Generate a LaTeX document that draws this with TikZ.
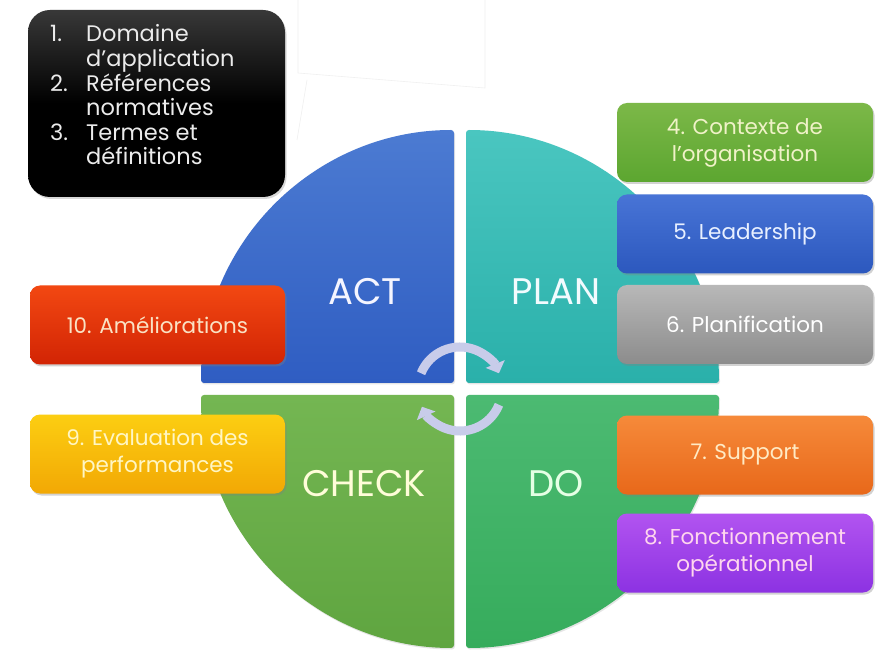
\documentclass[tikz,border=0pt]{standalone}
\usepackage{fontspec}
\setmainfont{Poppins}
\usetikzlibrary{shadows,arrows.meta}
\definecolor{actT}{HTML}{4C7BD2}
\definecolor{actB}{HTML}{2F5DC2}
\definecolor{planT}{HTML}{4AC6C0}
\definecolor{planB}{HTML}{2AB0AA}
\definecolor{checkT}{HTML}{74B652}
\definecolor{checkB}{HTML}{5FA540}
\definecolor{doT}{HTML}{4CBA72}
\definecolor{doB}{HTML}{36AC5C}
\definecolor{arrowc}{HTML}{C8CCEA}
\begin{document}
\begin{tikzpicture}[x=1pt,y=1pt,
  quad/.style={rounded corners=3pt, drop shadow={opacity=0.2, shadow xshift=1pt, shadow yshift=-1.5pt}},
  box/.style={rectangle, rounded corners=10pt, minimum width=256pt, minimum height=79pt, inner sep=0pt, align=center,
    font=\fontsize{21.5}{27}\selectfont, drop shadow={opacity=0.35, shadow xshift=1.5pt, shadow yshift=-2pt}},
  big/.style={inner sep=0pt, font=\fontsize{37}{40}\selectfont},
  cyc/.style={draw=arrowc, line width=9pt, -{Triangle[width=20pt,length=10pt]}}
]
\useasboundingbox (0,0) rectangle (884,-652);
\fill[white] (0,0) rectangle (884,-652);
% faint background lines
\draw[gray!12, line width=0.6pt] (298,0) -- (298,-73) -- (485,-88) -- (485,0);
\draw[gray!12, line width=0.6pt] (307,-80) -- (297,-140);
% quadrants
\path[quad, top color=actT, bottom color=actB] (454,-383) -- (201,-383) arc[start angle=180, end angle=90, radius=253] -- cycle;
\path[quad, top color=planT, bottom color=planB] (466,-383) -- (466,-130) arc[start angle=90, end angle=0, radius=253] -- cycle;
\path[quad, top color=checkT, bottom color=checkB] (454,-395) -- (201,-395) arc[start angle=180, end angle=270, radius=253] -- cycle;
\path[quad, top color=doT, bottom color=doB] (466,-395) -- (719,-395) arc[start angle=0, end angle=-90, radius=253] -- cycle;
% big labels
\node[big, text=blue!4] (act) at (365,-292) {ACT};
\node[big, text=cyan!5] (plan) at (556,-292) {PLAN};
\node[big, text=yellow!15] (check) at (364,-484) {CHECK};
\node[big, text=green!10] (do) at (556,-484) {DO};
% cycle arrows
\coordinate (cc) at (460,-389);
\draw[cyc] ([shift={(158:42)}]cc) arc[start angle=158, end angle=22, radius=42];
\draw[cyc] ([shift={(-22:42)}]cc) arc[start angle=-22, end angle=-155, radius=42];
% black box
\node[rectangle, rounded corners=22pt, minimum width=257pt, minimum height=187pt, inner sep=0pt,
  top color=black!78, bottom color=black, middle color=black, drop shadow={opacity=0.3, shadow xshift=1.5pt, shadow yshift=-2pt}]
  (b0) at (156.5,-103.5) {};
\node[anchor=base west, inner sep=0pt, text=white!92!black, font=\fontsize{22.5}{24.3}\selectfont] (b0t) at (50,-42)
  {\begin{tabular}[t]{@{}p{36pt}@{}l@{}}
  1. & Domaine\\
     & d'application\\
  2. & Références\\
     & normatives\\
  3. & Termes et\\
     & définitions
  \end{tabular}};
% right boxes
\node[box, top color={rgb,255:red,124;green,184;blue,72}, bottom color={rgb,255:red,92;green,166;blue,48}, text={rgb,255:red,240;green,242;blue,200}]
  (b4) at (745,-142.5) {4. Contexte de\\l'organisation};
\node[box, top color={rgb,255:red,72;green,116;blue,214}, bottom color={rgb,255:red,44;green,88;blue,190}, text={rgb,255:red,232;green,240;blue,255}]
  (b5) at (745,-234) {5. Leadership};
\node[box, top color={rgb,255:red,184;green,184;blue,184}, bottom color={rgb,255:red,140;green,140;blue,140}, text=white]
  (b6) at (745,-324.5) {6. Planification};
\node[box, top color={rgb,255:red,246;green,138;blue,58}, bottom color={rgb,255:red,232;green,104;blue,26}, text={rgb,255:red,255;green,234;blue,196}]
  (b7) at (745,-455) {7. Support};
\node[box, top color={rgb,255:red,178;green,84;blue,240}, bottom color={rgb,255:red,140;green,50;blue,226}, text={rgb,255:red,255;green,214;blue,238}]
  (b8) at (745,-553) {8. Fonctionnement\\opérationnel};
% left boxes
\node[box, minimum width=255pt, top color={rgb,255:red,242;green,72;blue,18}, bottom color={rgb,255:red,210;green,36;blue,4}, text={rgb,255:red,250;green,226;blue,196}]
  (b10) at (157.5,-325) {10. Améliorations};
\node[box, minimum width=255pt, top color={rgb,255:red,252;green,206;blue,18}, bottom color={rgb,255:red,242;green,168;blue,4}, text={rgb,255:red,255;green,246;blue,196}]
  (b9) at (157.5,-454) {9. Evaluation des\\performances};
\end{tikzpicture}
\end{document}
